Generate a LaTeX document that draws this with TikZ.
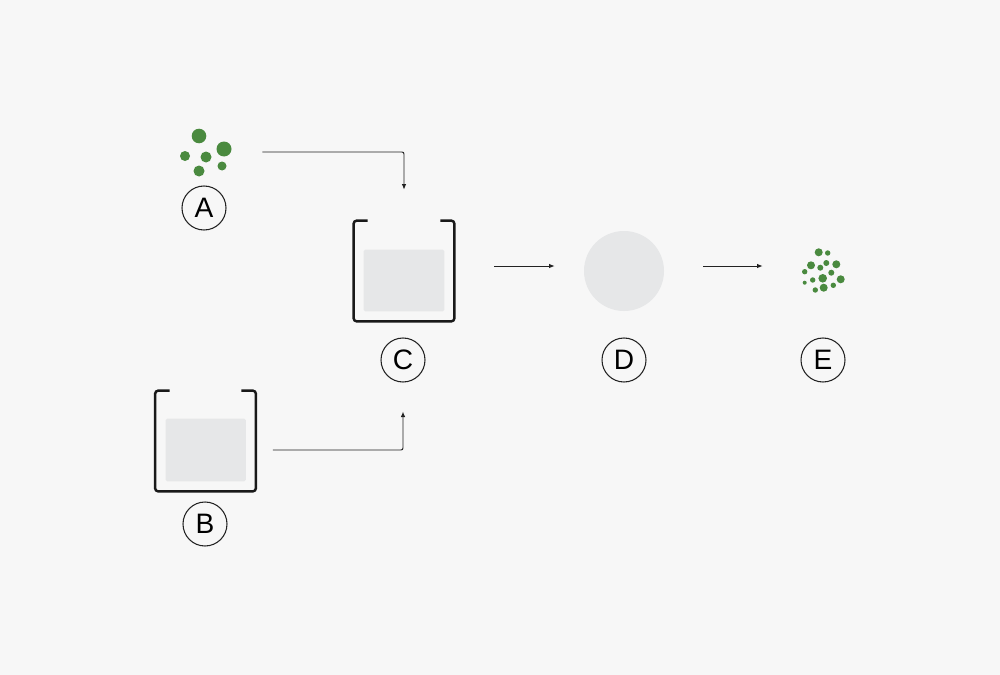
\documentclass[tikz,border=0pt]{standalone}
\usepackage{fontspec}
\setmainfont{Liberation Sans}
\usetikzlibrary{arrows.meta}
\definecolor{bg}{HTML}{F7F7F7}
\definecolor{grain}{HTML}{4A8A3F}
\definecolor{liquid}{HTML}{E6E7E8}
\definecolor{ink}{HTML}{222222}
\tikzset{
  lab/.style={circle, draw=ink, line width=0.6pt, minimum size=8.8mm, inner sep=0pt,
    font=\fontsize{16}{19}\selectfont},
  box/.style={minimum width=20mm, minimum height=20mm, inner sep=0pt},
  beaker/.style={draw=black!90, line width=1.4pt, rounded corners=0.6mm},
  arr/.style={draw=ink, line width=0.55pt, rounded corners=0.4mm,
    -{Latex[length=1.1mm,width=0.9mm]}},
}
\begin{document}
\begin{tikzpicture}[x=0.2mm, y=-0.2mm]
  \fill[bg] (0,0) rectangle (1000,675);
  \useasboundingbox (0,0) rectangle (1000,675);

  % grains
  \node[minimum width=10.8mm, minimum height=9.6mm, inner sep=0pt] (A) at (205,152) {};
  \foreach \x/\y/\r in {199/136/7.3, 185/156/5, 206/157/5.5, 224/149/7.5, 199/171/5.5, 222/166/4.5}
    \fill[grain] (\x,\y) circle[radius=\r*0.2mm];
  \node[lab] (labA) at (204,208) {A};

  % beaker C
  \node[box] (C) at (404,271) {};
  \fill[liquid, rounded corners=0.3mm] ([shift={(2mm,-5.8mm)}]C.north west) rectangle ([shift={(-2mm,2mm)}]C.south east);
  \draw[beaker] ([xshift=2.8mm]C.north west) -- (C.north west) -- (C.south west)
    -- (C.south east) -- (C.north east) -- ([xshift=-2.8mm]C.north east);
  \node[lab] (labC) at (403,360) {C};

  % beaker B
  \node[box] (B) at (205.5,441) {};
  \fill[liquid, rounded corners=0.3mm] ([shift={(2.1mm,-5.6mm)}]B.north west) rectangle ([shift={(-2mm,2mm)}]B.south east);
  \draw[beaker] ([xshift=2.9mm]B.north west) -- (B.north west) -- (B.south west)
    -- (B.south east) -- (B.north east) -- ([xshift=-2.9mm]B.north east);
  \node[lab] (labB) at (205,524) {B};

  % drum
  \node[circle, fill=liquid, minimum size=16mm, inner sep=0pt] (D) at (624,271) {};
  \node[lab] (labD) at (624,360) {D};

  % fine grains
  \node[minimum width=8.8mm, minimum height=8.8mm, inner sep=0pt] (E) at (823,271) {};
  \foreach \x/\y/\r in {818.7/252.3/4, 827.7/253/2.7, 811/265.3/4, 826.3/263/3, 836.3/264.3/4,
      804.7/271.7/2.7, 820.3/267.7/3, 831.3/272.7/3, 822.7/278.3/4.3, 840.7/279.3/4,
      812.7/280/2.7, 804.7/282.7/2, 823.7/287.7/4, 815.3/290/2.7, 833.3/285.3/2.7}
    \fill[grain] (\x,\y) circle[radius=\r*0.2mm];
  \node[lab] (labE) at (823,360) {E};

  % flow
  \draw[arr] ([xshift=6mm]A.east) -| ([yshift=6.2mm]C.north);
  \draw[arr] ([shift={(3.4mm,-1.8mm)}]B.east) -| ([yshift=-5.8mm]labC.south);
  \draw[arr] ([shift={(8mm,1mm)}]C.east) -- ([shift={(-5.8mm,1mm)}]D.west);
  \draw[arr] ([shift={(7.8mm,1mm)}]D.east) -- ([shift={(-7.6mm,1mm)}]E.west);
\end{tikzpicture}
\end{document}
